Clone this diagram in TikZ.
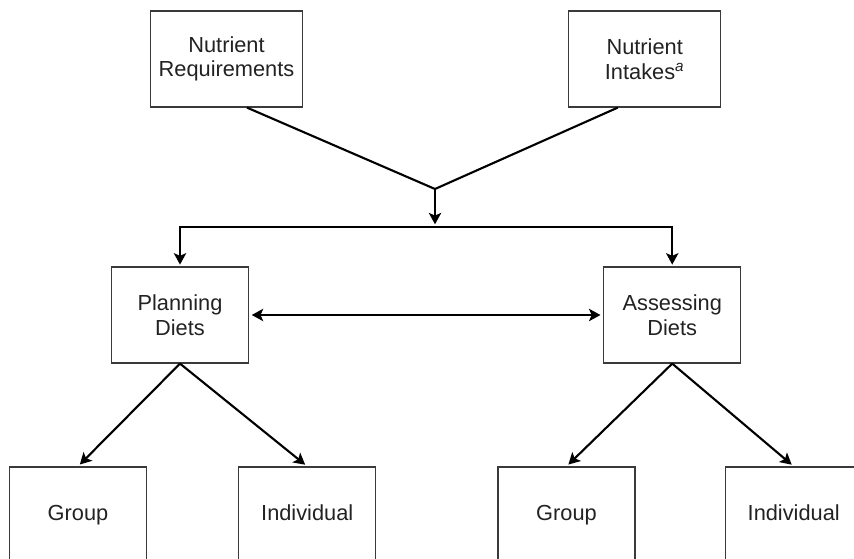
\documentclass[tikz,border=0pt]{standalone}
\usepackage{xcolor}
\usepackage{fontspec}
\setmainfont{Liberation Sans}
\usepackage{tikz}
\usetikzlibrary{arrows.meta,shapes,positioning}
\definecolor{boxgray}{HTML}{3A3A3A}
\definecolor{textgray}{HTML}{222222}
\tikzset{
  every picture/.style = {
    line width = 1.2pt,
    >={Stealth[length=6.5pt,width=7pt,inset=1.5pt]},
    node distance = 1.8cm and 5.3cm,
  }
  ,
  box/.style = {
    rectangle,
    draw = boxgray,
    line width = 0.7pt,
    font = \fontsize{12.4}{14}\selectfont,
    text = textgray,
    align = center,
    minimum width = 2.74cm,
    minimum height = 1.92cm
  }
  , % the two wider boxes on top
  box-top/.style = {
    box,
    minimum width = 3.04cm
  }
  , % boxes with one line of text
  box-one/.style = {
    box,
    text height = 1.6ex,
    text depth = 0.45ex
  }
}
\begin{document}
\begin{tikzpicture}
\clip (0,0) rectangle (17.08,-11.18);
\node [box-top] (req) at (4.53,-1.18) {Nutrient\\Requirements};
\node [box-top, right = 5.30cm of req] (intk) {Nutrient\\Intakes\textsuperscript{\itshape a}};
\coordinate (join) at (8.70,-3.78);
\coordinate (fork) at (8.70,-4.54);
\node [box] (plan) at (3.60,-6.30) {Planning\\Diets};
\node [box, right = 7.08cm of plan] (assess) {Assessing\\Diets};
\node [box-one] (grp1) at (1.56,-10.30) {Group};
\node [box-one, right = 1.82cm of grp1] (ind1) {Individual};
\node [box-one] (grp2) at (11.33,-10.30) {Group};
\node [box-one, right = 1.78cm of grp2] (ind2) {Individual};

\draw ([xshift=0.41cm]req.south) -- (join);
\draw ([xshift=-0.54cm]intk.south) -- (join);
\draw [->, shorten >=1.5pt] (join) -- (fork);
\draw [->, shorten >=1pt] (fork) -| (plan.north);
\draw [->, shorten >=1pt] (fork) -| (assess.north);
\draw [<->, shorten >=1.5pt, shorten <=1.5pt] (plan.east) -- (assess.west);

\path [->, shorten >=1.5pt] (plan.south) edge (grp1.north)
                            edge (ind1.north);
\path [->, shorten >=1.5pt] (assess.south) edge (grp2.north)
                            edge (ind2.north);
\end{tikzpicture}
\end{document}
